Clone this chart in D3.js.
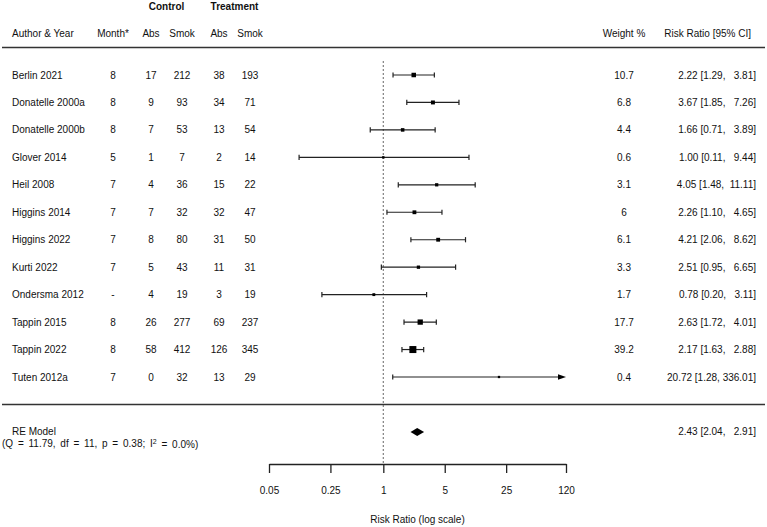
<!DOCTYPE html>
<html><head><meta charset="utf-8">
<script src="https://cdn.jsdelivr.net/npm/d3@7"></script>
<style>
body{margin:0;background:#fff;}
text{font-family:"Liberation Sans",Arial,sans-serif;font-size:10px;fill:#111;white-space:pre;}
</style></head>
<body>
<svg id="c" width="767" height="527"></svg>
<script>
const authors = ["Berlin 2021","Donatelle 2000a","Donatelle 2000b","Glover 2014","Heil 2008","Higgins 2014","Higgins 2022","Kurti 2022","Ondersma 2012","Tappin 2015","Tappin 2022","Tuten 2012a"];
const months = ["8","8","8","5","7","7","7","7","-","8","8","7"];
const ctrlAbs = [17,9,7,1,4,7,8,5,4,26,58,0];
const ctrlSmok = [212,93,53,7,36,32,80,43,19,277,412,32];
const trtAbs = [38,34,13,2,15,32,31,11,3,69,126,13];
const trtSmok = [193,71,54,14,22,47,50,31,19,237,345,29];
const weights = [10.7,6.8,4.4,0.6,3.1,6,6.1,3.3,1.7,17.7,39.2,0.4];
const rr = [2.22,3.67,1.66,1.00,4.05,2.26,4.21,2.51,0.78,2.63,2.17,20.72];
const lower = [1.29,1.85,0.71,0.11,1.48,1.10,2.06,0.95,0.20,1.72,1.63,1.28];
const upper = [3.81,7.26,3.89,9.44,11.11,4.65,8.62,6.65,3.11,4.01,2.88,336.01];
const reModel = {est:2.43, lo:2.04, hi:2.91};
const qStats = {Q:"11.79", df:"11", p:"0.38", I2:"0.0%"};
const ticks = [0.05,0.25,1,5,25,120];

const svg = d3.select("#c");
const k = authors.length;
const x = d3.scaleLog().domain([0.05,120]).range([269,566]);
const y = d3.scaleLinear().domain([k,1]).range([75,377]);
const fmt = d3.format(".2f");
const pad = (s,w)=>" ".repeat(Math.max(0,w-s.length))+s;
const upW = d3.max(upper, d=>fmt(d).length);
const ciText = (e,l,u)=>`${fmt(e)} [${fmt(l)}, ${pad(fmt(u),upW)}]`;
const boxScale = d3.scaleLinear().domain(d3.extent(weights,w=>Math.sqrt(w))).range([2.3,7]);
const ink = "#222";

// rules
svg.append("line").attr("x1",2).attr("x2",765).attr("y1",y(k+1)).attr("y2",y(k+1)).attr("stroke","#333").attr("stroke-width",1.5);
svg.append("line").attr("x1",2).attr("x2",765).attr("y1",y(0)).attr("y2",y(0)).attr("stroke","#333").attr("stroke-width",1.5);

// reference line
svg.append("line").attr("x1",x(1)).attr("x2",x(1)).attr("y1",y(k+0.5)).attr("y2",464)
  .attr("stroke","#555").attr("stroke-width",1.2).attr("stroke-dasharray","1.5,2.5");

// headers
const hdrY = y(k+1.5), grpY = y(k+2.5);
const cols = {month:113, cAbs:151, cSmok:182, tAbs:219, tSmok:250, w:624};
svg.append("text").attr("x",12).attr("y",hdrY).attr("dy","0.35em").text("Author & Year");
[["Month*",cols.month],["Abs",cols.cAbs],["Smok",cols.cSmok],["Abs",cols.tAbs],["Smok",cols.tSmok],["Weight %",cols.w]].forEach(([t,cx])=>{
  svg.append("text").attr("x",cx).attr("y",hdrY).attr("dy","0.35em").attr("text-anchor","middle").text(t);
});
svg.append("text").attr("x",751).attr("y",hdrY).attr("dy","0.35em").attr("text-anchor","end").text("Risk Ratio [95% CI]");
svg.append("text").attr("x",(cols.cAbs+cols.cSmok)/2).attr("y",grpY).attr("dy","0.35em").attr("text-anchor","middle").attr("font-weight","bold").text("Control");
svg.append("text").attr("x",(cols.tAbs+cols.tSmok)/2).attr("y",grpY).attr("dy","0.35em").attr("text-anchor","middle").attr("font-weight","bold").text("Treatment");

// rows
const rows = authors.map((a,i)=>({a,i,row:k-i}));
const g = svg.selectAll("g.row").data(rows).join("g").attr("class","row").attr("transform",d=>`translate(0,${y(d.row)})`);
g.append("text").attr("x",12).attr("dy","0.35em").text(d=>d.a);
const colData = [[months,cols.month],[ctrlAbs,cols.cAbs],[ctrlSmok,cols.cSmok],[trtAbs,cols.tAbs],[trtSmok,cols.tSmok],[weights,cols.w]];
colData.forEach(([arr,cx])=>{
  g.append("text").attr("x",cx).attr("dy","0.35em").attr("text-anchor","middle").text(d=>String(arr[d.i]));
});
g.append("text").attr("x",756).attr("dy","0.35em").attr("text-anchor","end").text(d=>ciText(rr[d.i],lower[d.i],upper[d.i]));

// CI lines
const xmax = x.domain()[1];
g.append("line").attr("x1",d=>x(lower[d.i])).attr("x2",d=>x(Math.min(upper[d.i],xmax)) - (upper[d.i]>xmax?6:0))
  .attr("stroke",ink).attr("stroke-width",1.2);
g.append("line").attr("x1",d=>x(lower[d.i])).attr("x2",d=>x(lower[d.i])).attr("y1",-2.6).attr("y2",2.6).attr("stroke",ink).attr("stroke-width",1.2);
g.filter(d=>upper[d.i]<=xmax).append("line").attr("x1",d=>x(upper[d.i])).attr("x2",d=>x(upper[d.i])).attr("y1",-2.6).attr("y2",2.6).attr("stroke",ink).attr("stroke-width",1.2);
g.filter(d=>upper[d.i]>xmax).append("path").attr("d",()=>{const xe=x(xmax);return `M${xe},0L${xe-8},-2.8L${xe-8},2.8Z`;}).attr("fill","#000");
g.append("rect").attr("x",d=>x(rr[d.i])-boxScale(Math.sqrt(weights[d.i]))/2).attr("y",d=>-boxScale(Math.sqrt(weights[d.i]))/2)
  .attr("width",d=>boxScale(Math.sqrt(weights[d.i]))).attr("height",d=>boxScale(Math.sqrt(weights[d.i]))).attr("fill","#000");

// RE model
const reY = y(-1);
svg.append("path").attr("d",`M${x(reModel.lo)},${reY}L${x(reModel.est)},${reY-4}L${x(reModel.hi)},${reY}L${x(reModel.est)},${reY+4}Z`).attr("fill","#000");
svg.append("text").attr("x",12).attr("y",reY).attr("dy","0.35em").text("RE Model");
const q = svg.append("text").attr("x",2).attr("y",y(-1.42)).attr("dy","0.35em").attr("word-spacing","2px");
q.append("tspan").text(`(Q = ${qStats.Q}, df = ${qStats.df}, p = ${qStats.p}; I`);
q.append("tspan").attr("dy","-0.4em").attr("font-size","7px").text("2");
q.append("tspan").attr("dy","0.4em").text(` = ${qStats.I2})`);
svg.append("text").attr("x",756).attr("y",reY).attr("dy","0.35em").attr("text-anchor","end").text(ciText(reModel.est,reModel.lo,reModel.hi));

// axis
const axis = d3.axisBottom(x).tickValues(ticks).tickFormat(d=>String(d)).tickSize(9).tickSizeOuter(0).tickPadding(14);
const ag = svg.append("g").attr("transform","translate(0,464)").call(axis);
ag.select(".domain").attr("stroke","#222").attr("stroke-width",1.3);
ag.selectAll(".tick line").attr("stroke","#222").attr("stroke-width",1.3);
ag.selectAll(".tick text").attr("font-size","10px").attr("font-family","Liberation Sans, Arial, sans-serif").attr("fill","#111");
svg.append("text").attr("x",(x.range()[0]+x.range()[1])/2).attr("y",519).attr("dy","0.35em").attr("text-anchor","middle").text("Risk Ratio (log scale)");
</script>
</body></html>
